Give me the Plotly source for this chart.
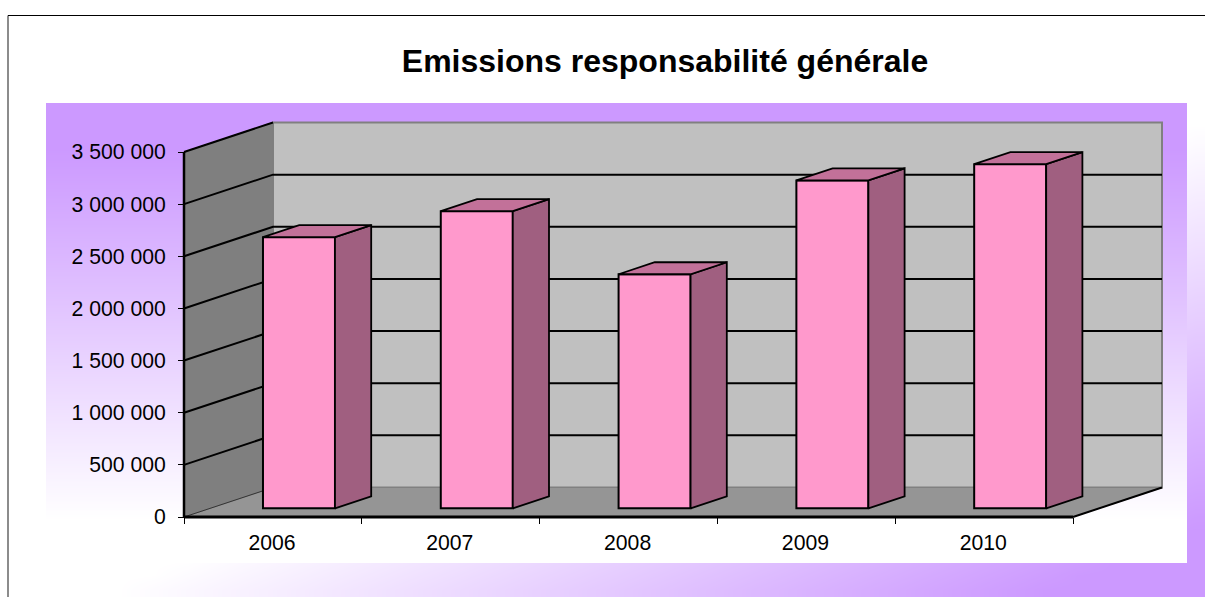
import numpy as np
import plotly.graph_objects as go

TITLE = "Emissions responsabilité générale"
years = ["2006", "2007", "2008", "2009", "2010"]
emissions = [2600000, 2850000, 2245000, 3145000, 3300000]
y_ticks = [0, 500000, 1000000, 1500000, 2000000, 2500000, 3000000, 3500000]

# page geometry, px
W, H = 1205, 597
AX_L, AX_B, AX_R, AX_T = 184, 517, 1162, 122
PAD = 8
PX_PER_CAT = 177.8
PX_PER_VAL = 365 / 3500000
DEPTH_PX_X, DEPTH_PX_Y = 89, 29.5
dx = DEPTH_PX_X / PX_PER_CAT
dy = DEPTH_PX_Y / PX_PER_VAL
n = len(years)
y_top = (AX_B - AX_T + PAD) / PX_PER_VAL
y_bot = -PAD / PX_PER_VAL
x_top = (AX_R - AX_L + PAD) / PX_PER_CAT
x_bot = -PAD / PX_PER_CAT

BAR_W = 72 / PX_PER_CAT
F0, F1 = 0.293, 0.70   # front / rear of the bars inside the depth


def poly(points, fill, line=None, width=1.0, xa="x2", ya="y2"):
    xs = [p[0] for p in points]
    ys = [p[1] for p in points]
    return go.Scatter(x=xs, y=ys, xaxis=xa, yaxis=ya, mode="lines", fill="toself",
                      fillcolor=fill, line=dict(color=line or fill, width=width),
                      hoverinfo="skip", showlegend=False, cliponaxis=False)


def line(xs, ys, color="black", width=1.5, xa="x2", ya="y2"):
    return go.Scatter(x=xs, y=ys, xaxis=xa, yaxis=ya, mode="lines",
                      line=dict(color=color, width=width), hoverinfo="skip",
                      showlegend=False, cliponaxis=False)


fig = go.Figure()

# ---- backgrounds (page px coordinates on x/y); x and y are brick edges
PURPLE = "#cc99ff"
ex = np.linspace(8, W, 71)
ey = np.linspace(15, H, 41)
XX, YY = np.meshgrid((ex[:-1] + ex[1:]) / 2, (ey[:-1] + ey[1:]) / 2)
outer = np.clip((0.43 * XX + YY - 640) / 400, 0, 1)
fig.add_trace(go.Heatmap(x=ex, y=ey, z=outer, zmin=0, zmax=1, zsmooth="best", showscale=False,
                         colorscale=[[0, "#ffffff"], [1, PURPLE]], hoverinfo="skip",
                         xaxis="x", yaxis="y"))
ry = np.linspace(103, 563, 47)
rc = (ry[:-1] + ry[1:]) / 2
inner = np.clip((520 - rc) / (520 - 150), 0, 1)
fig.add_trace(go.Heatmap(x=[46, 616, 1187], y=ry, z=np.column_stack([inner, inner]), zmin=0, zmax=1,
                         zsmooth="best", showscale=False,
                         colorscale=[[0, "#ffffff"], [1, PURPLE]], hoverinfo="skip",
                         xaxis="x", yaxis="y"))

# ---- 3D box walls
fig.add_trace(poly([(dx, dy), (n + dx, dy), (n + dx, 3500000 + dy), (dx, 3500000 + dy), (dx, dy)],
                   "#c0c0c0", "#808080", 2))
fig.add_trace(poly([(0, 0), (dx, dy), (dx, 3500000 + dy), (0, 3500000), (0, 0)], "#7f7f7f", "#7f7f7f", 1))
fig.add_trace(poly([(0, 0), (n, 0), (n + dx, dy), (dx, dy), (0, 0)], "#959595", "#808080", 1))

# grid lines
gxs, gys = [], []
for v in y_ticks[1:-1]:
    gxs += [0, dx, n + dx, None]
    gys += [v, v + dy, v + dy, None]
gxs += [0, dx, None]
gys += [y_ticks[-1], y_ticks[-1] + dy, None]
fig.add_trace(line(gxs, gys, "black", 2))
fig.add_trace(line([0, dx], [0, dy], "#333333", 1))
# axis lines
fig.add_trace(line([0, 0], [0, y_ticks[-1]], "black", 2.5))
fig.add_trace(line([0, n], [0, 0], "black", 3))
fig.add_trace(line([n, n + dx], [0, dy], "black", 2))

# ---- bars
centers = [i + 0.5 + F0 * dx for i in range(n)]
base = F0 * dy
fig.add_trace(go.Bar(x=centers, y=emissions, base=[base] * n, width=BAR_W, xaxis="x3", yaxis="y3",
                     marker=dict(color="#ff99cc", line=dict(color="black", width=2)),
                     hoverinfo="skip", showlegend=False))
ddx = (F1 - F0) * dx
ddy = (F1 - F0) * dy
for c, v in zip(centers, emissions):
    l, r = c - BAR_W / 2, c + BAR_W / 2
    t = base + v
    fig.add_trace(poly([(r, base), (r + ddx, base + ddy), (r + ddx, t + ddy), (r, t), (r, base)],
                       "#a05f80", "black", 1.8, "x3", "y3"))
    fig.add_trace(poly([(l, t), (r, t), (r + ddx, t + ddy), (l + ddx, t + ddy), (l, t)],
                       "#c27199", "black", 1.8, "x3", "y3"))

FONT = "Liberation Sans"
axis_common = dict(range=[x_bot, x_top], domain=[(AX_L - PAD) / W, (AX_R + PAD) / W], showgrid=False,
                   zeroline=False, showline=False, automargin=False)
yaxis_common = dict(range=[y_bot, y_top], domain=[(H - AX_B - PAD) / H, (H - AX_T + PAD) / H], showgrid=False,
                    zeroline=False, showline=False, automargin=False)

fig.update_layout(
    width=W, height=H, margin=dict(l=0, r=0, t=0, b=0), autosize=False,
    paper_bgcolor="white", plot_bgcolor="rgba(0,0,0,0)", separators=". ", barmode="overlay",
    showlegend=False,
    title=dict(text=TITLE, x=665 / W, y=1 - 61 / H, xanchor="center", yanchor="middle", xref="paper", yref="paper",
               automargin=False,
               font=dict(family=FONT, size=32, color="black", weight="bold")),
    font=dict(family=FONT, color="black"),
    xaxis=dict(range=[0, W], domain=[0, 1], visible=False, automargin=False),
    yaxis=dict(range=[H, 0], domain=[0, 1], visible=False, automargin=False),
    xaxis2=dict(anchor="free", position=(H - AX_B) / H, tickmode="array",
                tickvals=[i + 0.495 for i in range(n)], ticktext=years,
                ticks="", ticklabelstandoff=11, tickfont=dict(size=21.2, family=FONT, color="black"),
                minor=dict(tickmode="array", tickvals=list(range(n + 1)), ticks="outside", ticklen=6,
                           tickcolor="black", tickwidth=1),
                **axis_common),
    yaxis2=dict(anchor="free", position=AX_L / W, tickmode="array", tickvals=y_ticks, tickformat=",d",
                ticks="outside", ticklen=6,
                tickcolor="black", tickwidth=1, ticklabelstandoff=8,
                tickfont=dict(size=21.2, family=FONT, color="black"), **yaxis_common),
    xaxis3=dict(anchor="y3", overlaying="x2", visible=False, **axis_common),
    yaxis3=dict(anchor="x3", overlaying="y2", visible=False, **yaxis_common),
    shapes=[
        dict(type="line", xref="paper", yref="paper", x0=8 / W, x1=8 / W, y0=0, y1=1 - 15.5 / H,
             line=dict(color="#666666", width=1.5)),
        dict(type="line", xref="paper", yref="paper", x0=8 / W, x1=1, y0=1 - 15.5 / H, y1=1 - 15.5 / H,
             line=dict(color="black", width=1)),
    ],
)

fig.write_html("out.html", config={"displayModeBar": False, "responsive": False},
               post_script="document.body.style.margin='0';document.documentElement.style.overflow='hidden';")
